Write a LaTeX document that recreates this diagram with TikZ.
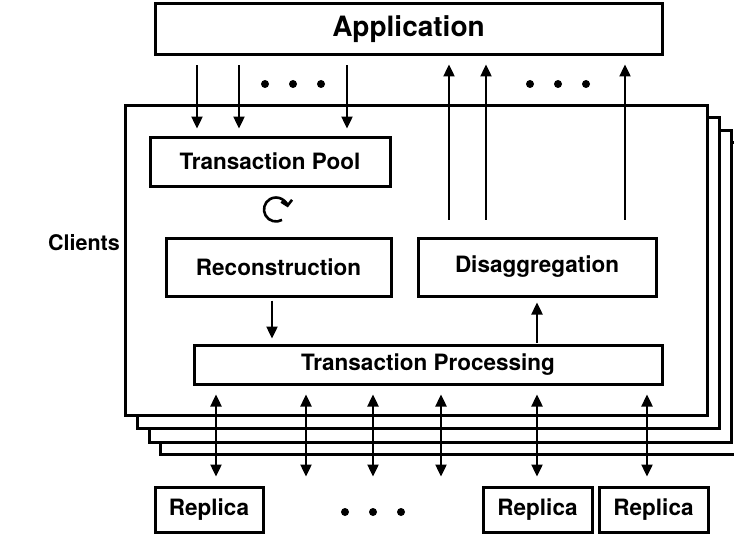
\documentclass[tikz,border=0pt]{standalone}
\usepackage{fontspec}
\setmainfont{TeX Gyre Heros}
\usetikzlibrary{arrows.meta}
\begin{document}
\begin{tikzpicture}[x=1pt,y=-1pt,
  lbl/.style={font=\bfseries\fontsize{22.5}{26}\selectfont},
  box/.style={draw, line width=3pt, fill=white, inner sep=0pt, lbl},
  layer/.style={draw, line width=3pt, fill=white},
  tip/.tip={Triangle[length=12pt,width=11pt]},
  arr/.style={line width=2.4pt, -tip},
  darr/.style={line width=2.4pt, tip-tip},
  dot/.style={circle, fill=black, inner sep=0pt, minimum size=8pt}]
\useasboundingbox (0,0) rectangle (734,535);

% stacked client layers
\draw[layer] (160,142) rectangle (743,454);
\draw[layer] (149,130) rectangle (731,442);
\draw[layer] (137,117) rectangle (719,428);
\draw[layer] (125,105) rectangle (707,415);

% nodes
\node[box, minimum width=507pt, minimum height=51pt, font=\bfseries\fontsize{28}{32}\selectfont] (app) at (408.5,29.5) {Application};
\node[box, minimum width=240pt, minimum height=49pt] (pool) at (270,161.5) {Transaction Pool};
\node[box, minimum width=225pt, minimum height=58pt] (recon) at (278.5,267) {Reconstruction};
\node[box, minimum width=238pt, minimum height=58pt] (disagg) at (537,267) {Disaggregation};
\node[box, minimum width=468pt, minimum height=39pt] (proc) at (428,364.5) {Transaction Processing};
\node[box, minimum width=108pt, minimum height=45pt] (r1) at (209,509.5) {Replica};
\node[box, minimum width=109pt, minimum height=45pt] (r2) at (537.5,509.5) {Replica};
\node[box, minimum width=109pt, minimum height=45pt] (r3) at (653.5,509.5) {Replica};
\node[lbl, font=\bfseries\fontsize{21.5}{25}\selectfont] (clients) at (84,243) {Clients};

% dots
\node[dot] (ta) at (265,84) {};
\node[dot] (tb) at (293,84) {};
\node[dot] (tc) at (321,84) {};
\node[dot] (ua) at (530,84) {};
\node[dot] (ub) at (558,84) {};
\node[dot] (uc) at (586,84) {};
\node[dot] (ba) at (345,512) {};
\node[dot] (bb) at (373,512) {};
\node[dot] (bc) at (401,512) {};

% x positions
\coordinate (d1) at (197,0);
\coordinate (d2) at (239,0);
\coordinate (d3) at (347,0);
\coordinate (u1) at (449,0);
\coordinate (u2) at (486,0);
\coordinate (u3) at (625,0);
\coordinate (m1) at (272,0);
\coordinate (m2) at (537,0);
\coordinate (b1) at (216,0);
\coordinate (b2) at (306,0);
\coordinate (b3) at (373,0);
\coordinate (b4) at (441,0);
\coordinate (b5) at (537,0);
\coordinate (b6) at (647,0);

% application -> pool
\foreach \c in {d1,d2,d3}
  \draw[arr, shorten <=9pt, shorten >=7pt] (app.south -| \c) -- (pool.north -| \c);
% clients -> application
\foreach \c in {u1,u2,u3}
  \draw[arr, shorten <=17pt, shorten >=8pt] (disagg.north -| \c) -- (app.south -| \c);
% reconstruction -> processing
\draw[arr, shorten <=3pt, shorten >=5pt] (recon.south -| m1) -- (proc.north -| m1);
% processing -> disaggregation
\draw[arr, shorten <=1pt, shorten >=5pt] (proc.north -| m2) -- (disagg.south -| m2);
% processing <-> replicas
\foreach \c in {b1,b2,b3,b4,b5,b6}
  \draw[darr, shorten <=9pt, shorten >=9pt] (proc.south -| \c) -- (r1.north -| \c);

% cycle symbol
\coordinate (cyc) at (276,209.5);
\draw[line width=2.6pt, -{Straight Barb[length=5pt,width=11pt]}] (cyc) ++(300:12pt) arc[start angle=300, end angle=10, radius=12pt];
\end{tikzpicture}
\end{document}
